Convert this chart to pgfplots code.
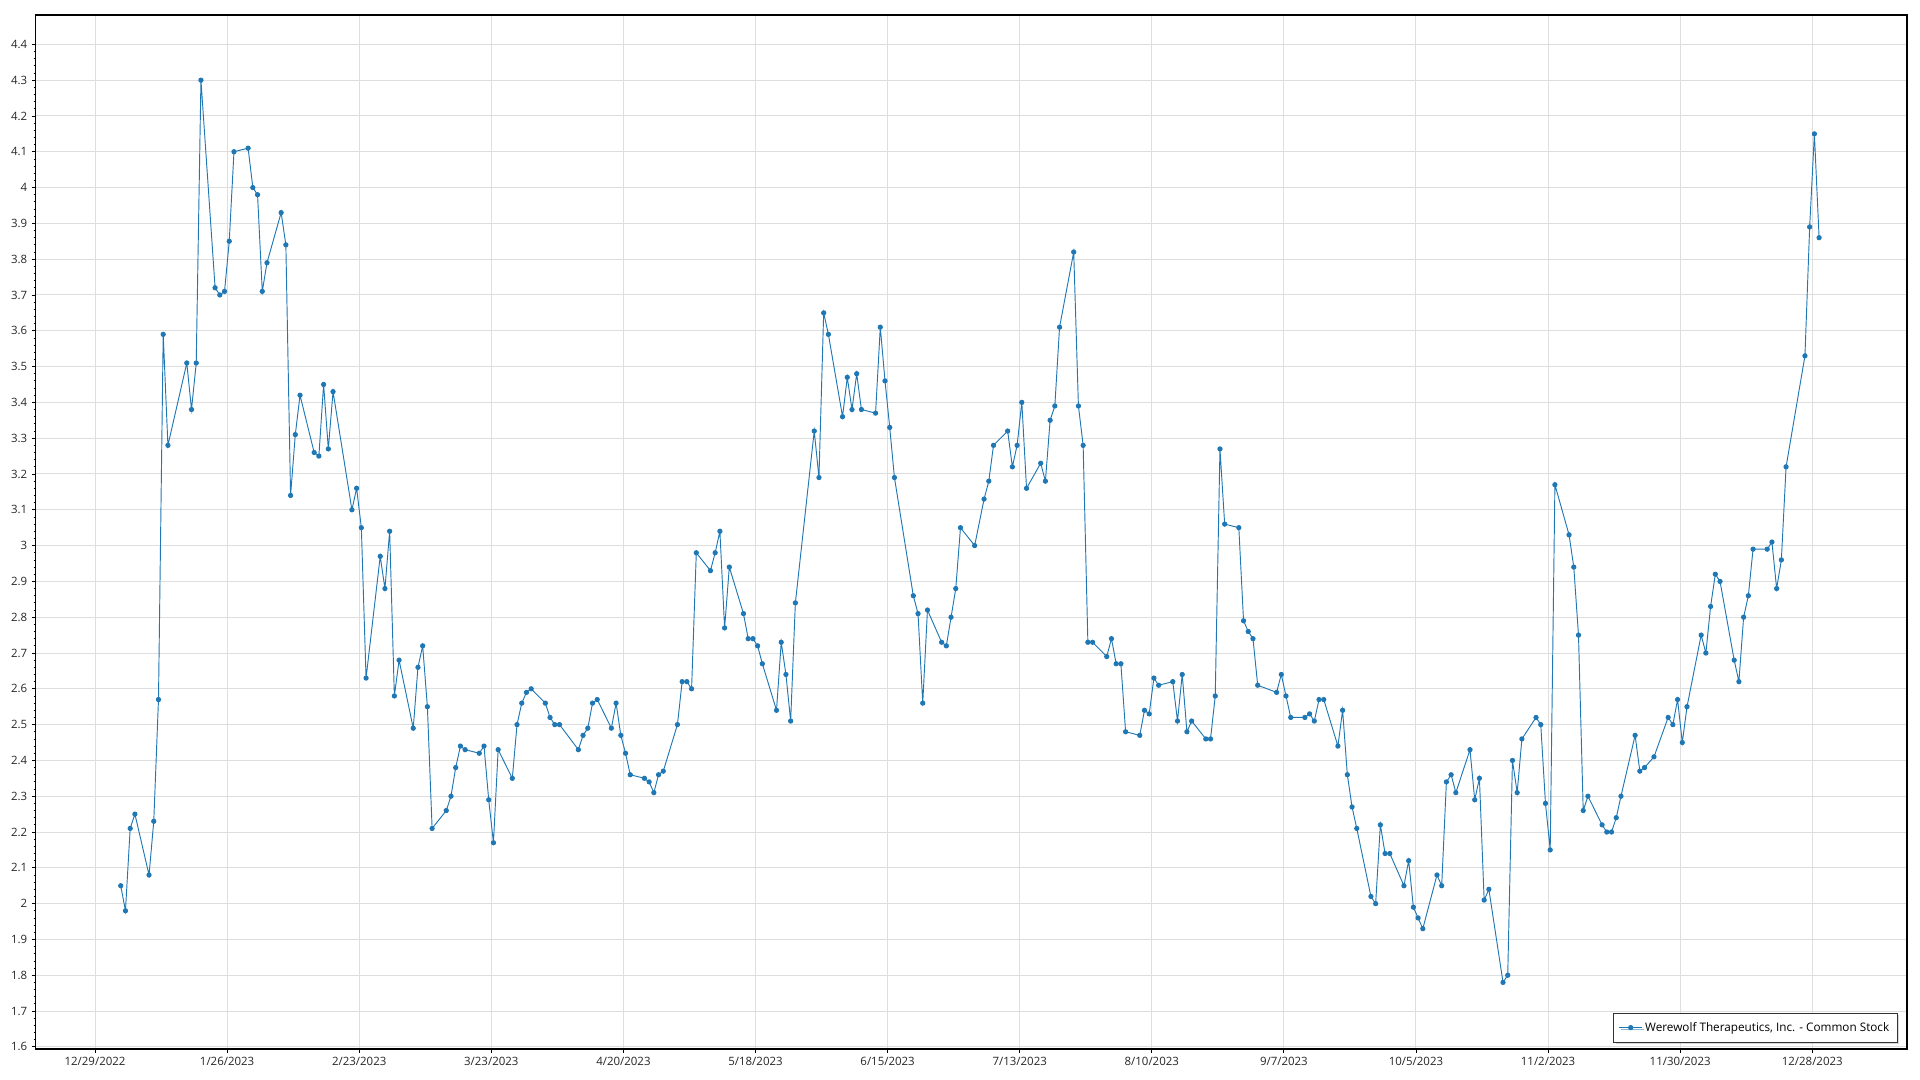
\documentclass[border=0pt]{standalone}
\usepackage{fontspec}
\setmainfont{Open Sans}
\usepackage{pgfplots}
\usepackage{pgfplotstable}
\pgfplotsset{compat=1.18}
\usetikzlibrary{shadows}
\definecolor{series}{RGB}{31,119,180}
\definecolor{gridc}{RGB}{222,222,222}

\pgfplotstableread{
d v
5 2.05
6 1.98
7 2.21
8 2.25
11 2.08
12 2.23
13 2.57
14 3.59
15 3.28
19 3.51
20 3.38
21 3.51
22 4.30
25 3.72
26 3.70
27 3.71
28 3.85
29 4.10
32 4.11
33 4.00
34 3.98
35 3.71
36 3.79
39 3.93
40 3.84
41 3.14
42 3.31
43 3.42
46 3.26
47 3.25
48 3.45
49 3.27
50 3.43
54 3.10
55 3.16
56 3.05
57 2.63
60 2.97
61 2.88
62 3.04
63 2.58
64 2.68
67 2.49
68 2.66
69 2.72
70 2.55
71 2.21
74 2.26
75 2.30
76 2.38
77 2.44
78 2.43
81 2.42
82 2.44
83 2.29
84 2.17
85 2.43
88 2.35
89 2.50
90 2.56
91 2.59
92 2.60
95 2.56
96 2.52
97 2.50
98 2.50
102 2.43
103 2.47
104 2.49
105 2.56
106 2.57
109 2.49
110 2.56
111 2.47
112 2.42
113 2.36
116 2.35
117 2.34
118 2.31
119 2.36
120 2.37
123 2.50
124 2.62
125 2.62
126 2.60
127 2.98
130 2.93
131 2.98
132 3.04
133 2.77
134 2.94
137 2.81
138 2.74
139 2.74
140 2.72
141 2.67
144 2.54
145 2.73
146 2.64
147 2.51
148 2.84
152 3.32
153 3.19
154 3.65
155 3.59
158 3.36
159 3.47
160 3.38
161 3.48
162 3.38
165 3.37
166 3.61
167 3.46
168 3.33
169 3.19
173 2.86
174 2.81
175 2.56
176 2.82
179 2.73
180 2.72
181 2.80
182 2.88
183 3.05
186 3.00
188 3.13
189 3.18
190 3.28
193 3.32
194 3.22
195 3.28
196 3.40
197 3.16
200 3.23
201 3.18
202 3.35
203 3.39
204 3.61
207 3.82
208 3.39
209 3.28
210 2.73
211 2.73
214 2.69
215 2.74
216 2.67
217 2.67
218 2.48
221 2.47
222 2.54
223 2.53
224 2.63
225 2.61
228 2.62
229 2.51
230 2.64
231 2.48
232 2.51
235 2.46
236 2.46
237 2.58
238 3.27
239 3.06
242 3.05
243 2.79
244 2.76
245 2.74
246 2.61
250 2.59
251 2.64
252 2.58
253 2.52
256 2.52
257 2.53
258 2.51
259 2.57
260 2.57
263 2.44
264 2.54
265 2.36
266 2.27
267 2.21
270 2.02
271 2.00
272 2.22
273 2.14
274 2.14
277 2.05
278 2.12
279 1.99
280 1.96
281 1.93
284 2.08
285 2.05
286 2.34
287 2.36
288 2.31
291 2.43
292 2.29
293 2.35
294 2.01
295 2.04
298 1.78
299 1.80
300 2.40
301 2.31
302 2.46
305 2.52
306 2.50
307 2.28
308 2.15
309 3.17
312 3.03
313 2.94
314 2.75
315 2.26
316 2.30
319 2.22
320 2.20
321 2.20
322 2.24
323 2.30
326 2.47
327 2.37
328 2.38
330 2.41
333 2.52
334 2.50
335 2.57
336 2.45
337 2.55
340 2.75
341 2.70
342 2.83
343 2.92
344 2.90
347 2.68
348 2.62
349 2.80
350 2.86
351 2.99
354 2.99
355 3.01
356 2.88
357 2.96
358 3.22
362 3.53
363 3.89
364 4.15
365 3.86
}\stock

\begin{document}
\begin{tikzpicture}
\useasboundingbox (0,0) rectangle (1440pt,810pt);
\begin{axis}[
  at={(26.8pt,23.25pt)}, anchor=south west,
  scale only axis,
  width=1403.5pt, height=775.5pt,
  xmin=-12.57, xmax=384.1,
  ymin=1.594, ymax=4.482,
  xtick={0,28,56,84,112,140,168,196,224,252,280,308,336,364},
  xticklabels={12/29/2022,1/26/2023,2/23/2023,3/23/2023,4/20/2023,5/18/2023,6/15/2023,7/13/2023,8/10/2023,9/7/2023,10/5/2023,11/2/2023,11/30/2023,12/28/2023},
  ytick={1.6,1.7,1.8,1.9,2.0,2.1,2.2,2.3,2.4,2.5,2.6,2.7,2.8,2.9,3.0,3.1,3.2,3.3,3.4,3.5,3.6,3.7,3.8,3.9,4.0,4.1,4.2,4.3,4.4},
  minor y tick num=4,
  tick align=outside,
  xtick pos=bottom, ytick pos=left,
  major tick length=2.8pt, minor tick length=1.6pt,
  tick style={black, line width=0.6pt},
  grid=major,
  major grid style={gridc, line width=0.75pt},
  axis line style={black, line width=0.9pt},
  ticklabel style={font=\fontsize{8.6}{10}\selectfont, text=black!85},
  /pgf/number format/assume math mode=true,
  legend style={at={(1,0)}, anchor=south east, xshift=-7pt, yshift=4.7pt,
    draw=black!80, line width=0.8pt, fill=white,
    font=\fontsize{8.8}{10.5}\selectfont,
    inner xsep=4pt, inner ysep=4.8pt,
    drop shadow={shadow xshift=1.6pt, shadow yshift=-1.6pt, fill=black!30}},
  legend cell align=left,
]
\addplot[color=series, line width=0.7pt, mark=*, mark size=1.6pt] table[x expr=\thisrow{d}+0.45, y=v] {\stock};
\addlegendentry{Werewolf Therapeutics, Inc. - Common Stock}
\end{axis}
\end{tikzpicture}
\end{document}
